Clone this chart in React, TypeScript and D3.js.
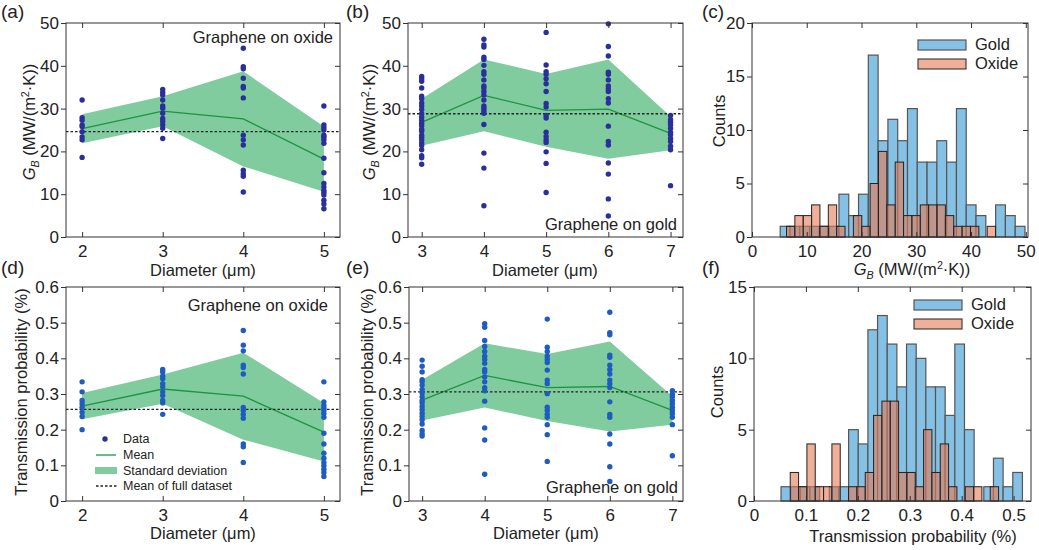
import { useEffect, useRef } from 'react';
import * as d3 from 'd3';

const FONT = 'Liberation Sans, Arial, Helvetica, sans-serif';

// ---------- data ----------
const oxideDiameters = [2, 3, 4, 5];
const goldDiameters = [3, 4, 5, 6, 7];

// G_B (MW/(m2 K)) per device, graphene on oxide
const oxideGB = [
  [32.0, 27.9, 27.3, 26.2, 25.8, 24.6, 23.4, 22.7, 18.6],
  [34.5, 33.8, 33.2, 32.0, 30.6, 30.1, 28.9, 27.7, 27.0, 26.2, 25.4, 23.0],
  [44.1, 39.8, 39.3, 37.1, 35.2, 34.8, 32.5, 23.8, 22.7, 21.5, 15.6, 14.8, 14.2, 10.5],
  [30.6, 26.2, 25.6, 25.0, 23.8, 23.3, 22.7, 21.9, 18.4, 15.0, 12.5, 11.7, 10.9, 10.4, 9.8, 8.6, 7.7, 6.6],
];
const oxideGBMean = [25.3, 29.4, 27.6, 18.2];
const oxideGBSd = [3.4, 3.5, 11.1, 7.6];
const oxideGBFullMean = 24.6;

// G_B, graphene on gold
const goldGB = [
  [37.5, 37.0, 36.4, 34.8, 32.9, 32.3, 31.3, 30.6, 29.8, 28.8, 28.0, 27.3, 26.6, 26.0, 25.2, 24.7, 23.8, 23.3, 22.7, 22.0, 21.4, 20.4, 19.0, 18.5, 17.0],
  [46.2, 44.9, 44.4, 42.0, 41.5, 40.1, 38.6, 38.0, 36.7, 35.3, 34.8, 34.0, 33.2, 32.0, 30.6, 30.1, 29.5, 28.9, 26.3, 19.6, 16.1, 7.3],
  [47.8, 40.2, 38.6, 38.0, 37.0, 35.8, 34.0, 31.2, 30.4, 28.4, 27.8, 24.5, 23.5, 22.7, 22.1, 19.9, 17.2, 10.4],
  [49.8, 44.5, 42.3, 38.5, 38.0, 36.7, 35.3, 34.6, 34.0, 32.3, 31.3, 25.9, 22.3, 21.5, 17.3, 14.7, 8.9, 4.9],
  [28.4, 27.4, 26.8, 26.2, 25.4, 24.5, 23.9, 23.0, 22.3, 21.2, 20.4, 12.0],
];
const goldGBMean = [26.8, 33.1, 29.6, 29.9, 24.2];
const goldGBSd = [5.5, 8.4, 8.5, 11.6, 3.95];
const goldGBFullMean = 28.8;

// transmission probability (%), oxide
const oxideTP = [
  [0.334, 0.306, 0.282, 0.273, 0.263, 0.249, 0.237, 0.2],
  [0.369, 0.362, 0.35, 0.343, 0.329, 0.32, 0.306, 0.296, 0.282, 0.275, 0.243],
  [0.478, 0.437, 0.421, 0.381, 0.374, 0.356, 0.262, 0.254, 0.243, 0.232, 0.16, 0.152, 0.108],
  [0.334, 0.278, 0.268, 0.26, 0.254, 0.245, 0.235, 0.19, 0.16, 0.134, 0.12, 0.108, 0.099, 0.089, 0.08, 0.069],
];
const oxideTPMean = [0.266, 0.314, 0.294, 0.193];
const oxideTPSd = [0.037, 0.041, 0.122, 0.082];
const oxideTPFullMean = 0.257;

// transmission probability (%), gold
const goldTP = [
  [0.395, 0.378, 0.362, 0.34, 0.334, 0.325, 0.313, 0.303, 0.292, 0.282, 0.275, 0.265, 0.256, 0.246, 0.237, 0.228, 0.216, 0.198, 0.188, 0.182],
  [0.497, 0.487, 0.45, 0.433, 0.419, 0.406, 0.397, 0.386, 0.369, 0.362, 0.348, 0.334, 0.318, 0.309, 0.28, 0.205, 0.171, 0.075],
  [0.51, 0.431, 0.419, 0.406, 0.397, 0.388, 0.367, 0.339, 0.329, 0.301, 0.263, 0.254, 0.243, 0.235, 0.214, 0.186, 0.111],
  [0.529, 0.472, 0.466, 0.409, 0.403, 0.381, 0.369, 0.356, 0.339, 0.329, 0.318, 0.278, 0.243, 0.235, 0.188, 0.16, 0.096, 0.055],
  [0.309, 0.299, 0.292, 0.282, 0.273, 0.263, 0.254, 0.245, 0.235, 0.214, 0.127],
];
const goldTPMean = [0.283, 0.352, 0.318, 0.321, 0.254];
const goldTPSd = [0.057, 0.09, 0.094, 0.126, 0.04];
const goldTPFullMean = 0.306;

// histograms: bin start, bin width, counts
const gbGoldBins = { start: 5.15, width: 1.788 };
const gbGoldCounts = [1, 1, 1, 1, 1, 1, 4, 2, 4, 17, 9, 11, 9, 12, 7, 7, 9, 7, 12, 3, 2, 0, 3, 2, 1];
const gbOxideBins = { start: 6.3, width: 1.527 };
const gbOxideCounts = [1, 2, 2, 3, 1, 3, 1, 0, 2, 1, 5, 8, 3, 7, 2, 2, 3, 3, 3, 2, 1, 1, 1, 0, 1];

const tpGoldBins = { start: 0.052, width: 0.0186 };
const tpGoldCounts = [1, 1, 1, 1, 0, 1, 1, 5, 4, 12, 13, 11, 8, 11, 10, 8, 8, 6, 11, 5, 0, 1, 3, 1, 2];
const tpOxideBins = { start: 0.0698, width: 0.01605 };
const tpOxideCounts = [2, 1, 4, 1, 1, 4, 0, 1, 1, 2, 6, 7, 7, 2, 2, 1, 5, 2, 4, 1, 0, 1, 1, 0, 1];

const gbTicks = [0, 10, 20, 30, 40, 50];
const tpTicks = [0, 0.1, 0.2, 0.3, 0.4, 0.5, 0.6];
const histGBTicks = [0, 10, 20, 30, 40, 50];
const histTPTicks = [0, 0.1, 0.2, 0.3, 0.4, 0.5];
const countTicksC = [0, 5, 10, 15, 20];
const countTicksF = [0, 5, 10, 15];

// ---------- styles ----------
const BAND = '#80cc9f';
const MEAN_LINE = '#1e9440';
const DOT_TOP = '#2b2f9b';
const DOT_BOTTOM = '#1f5cc0';
const GOLD_FILL = '#85c1e4';
const OXIDE_FILL = 'rgb(228,122,84)';

const fmtDec = (d) => (d === 0 ? '0' : d3.format('.1f')(d));
const fmtInt = (d) => String(d);

const drawAxes = (node, x, y, w, h, xTicks, yTicks, xFmt, yFmt) => {
  const g = d3.select(node);
  g.selectAll('*').remove();
  g.append('g').call(d3.axisLeft(y).tickValues(yTicks).tickFormat(yFmt).tickSize(5).tickPadding(2));
  g.append('g')
    .attr('transform', `translate(${w},0)`)
    .call(d3.axisRight(y).tickValues(yTicks).tickSize(-5).tickFormat(() => ''));
  g.append('g').call(d3.axisTop(x).tickValues(xTicks).tickSize(-5).tickFormat(() => ''));
  g.append('g')
    .attr('transform', `translate(0,${h})`)
    .call(d3.axisBottom(x).tickValues(xTicks).tickSize(-5).tickPadding(8).tickFormat(xFmt));
  g.selectAll('.domain').remove();
  g.selectAll('.tick line').attr('stroke', '#333').attr('stroke-width', 1);
  g.selectAll('.tick text')
    .attr('font-size', 17)
    .attr('font-family', FONT)
    .attr('fill', '#222');
  g.append('rect')
    .attr('width', w)
    .attr('height', h)
    .attr('fill', 'none')
    .attr('stroke', '#333')
    .attr('stroke-width', 1);
};

const GBText = ({ size }) => (
  <>
    <tspan fontStyle="italic">G</tspan>
    <tspan fontStyle="italic" fontSize={size * 0.65} dy={4}>B</tspan>
    <tspan dy={-4}>{' (MW/(m'}</tspan>
    <tspan fontSize={size * 0.65} dy={-6}>2</tspan>
    <tspan dy={6}>{'·K))'}</tspan>
  </>
);

const ScatterPanel = ({ box, xDomain, yDomain, yTicks, yFmt, diameters, points, mean, sd, fullMean, dotColor }) => {
  const axesRef = useRef(null);
  const { left, top, width, height } = box;
  const x = d3.scaleLinear().domain(xDomain).range([0, width]);
  const y = d3.scaleLinear().domain(yDomain).range([height, 0]);

  useEffect(() => {
    drawAxes(axesRef.current, x, y, width, height, diameters, yTicks, fmtInt, yFmt);
  }, []);

  const band = d3
    .area()
    .x((d, i) => x(diameters[i]))
    .y0((d, i) => y(mean[i] - sd[i]))
    .y1((d, i) => y(mean[i] + sd[i]))(mean);
  const line = d3
    .line()
    .x((d, i) => x(diameters[i]))
    .y((d) => y(d))(mean);

  return (
    <g transform={`translate(${left},${top})`}>
      <path d={band} fill={BAND} />
      <path d={line} fill="none" stroke={MEAN_LINE} strokeWidth={1.3} />
      <line x1={0} x2={width} y1={y(fullMean)} y2={y(fullMean)} stroke="#222" strokeWidth={1.3} strokeDasharray="2.5,2" />
      {points.map((col, i) =>
        col.map((v, j) => <circle key={`${i}-${j}`} cx={x(diameters[i])} cy={y(v)} r={2.7} fill={dotColor} />)
      )}
      <g ref={axesRef} />
    </g>
  );
};

const HistPanel = ({ box, xDomain, yDomain, xTicks, yTicks, xFmt, gold, oxide, legend }) => {
  const axesRef = useRef(null);
  const { left, top, width, height } = box;
  const x = d3.scaleLinear().domain(xDomain).range([0, width]);
  const y = d3.scaleLinear().domain(yDomain).range([height, 0]);

  useEffect(() => {
    drawAxes(axesRef.current, x, y, width, height, xTicks, yTicks, xFmt, fmtInt);
  }, []);

  const bars = (bins, counts, props, key) =>
    counts.map((c, i) => {
      if (!c) return null;
      const x0 = x(bins.start + i * bins.width);
      const x1 = x(bins.start + (i + 1) * bins.width);
      return <rect key={`${key}${i}`} x={x0} y={y(c)} width={x1 - x0} height={y(0) - y(c)} {...props} />;
    });

  return (
    <g transform={`translate(${left},${top})`}>
      {bars(gold.bins, gold.counts, { fill: GOLD_FILL, stroke: '#555', strokeWidth: 1.2 }, 'g')}
      {bars(oxide.bins, oxide.counts, { fill: OXIDE_FILL, fillOpacity: 0.6, stroke: '#222', strokeWidth: 1 }, 'o')}
      <g ref={axesRef} />
      <g transform={`translate(${legend.x},${legend.y})`} fontFamily={FONT} fontSize={16.5} fill="#222">
        <rect x={0} y={0} width={48} height={10} fill={GOLD_FILL} stroke="#555" strokeWidth={1.2} />
        <text x={57} y={10}>Gold</text>
        <rect x={0} y={19} width={48} height={10} fill={OXIDE_FILL} fillOpacity={0.6} stroke="#222" />
        <text x={57} y={29}>Oxide</text>
      </g>
    </g>
  );
};

const App = () => {
  const boxA = { left: 66, top: 23, width: 274, height: 214 };
  const boxB = { left: 408, top: 23, width: 275, height: 214 };
  const boxC = { left: 752, top: 23, width: 276, height: 214 };
  const boxD = { left: 66, top: 287, width: 274, height: 214 };
  const boxE = { left: 409, top: 287, width: 274, height: 214 };
  const boxF = { left: 754, top: 287, width: 277, height: 214 };

  const txt = { fontFamily: FONT, fill: '#222' };

  return (
    <svg width={1039} height={550} style={{ position: 'absolute', left: 0, top: 0, background: '#fff' }}>
      <ScatterPanel box={boxA} xDomain={[1.8, 5.2]} yDomain={[0, 50]} yTicks={gbTicks} yFmt={fmtInt}
        diameters={oxideDiameters} points={oxideGB} mean={oxideGBMean} sd={oxideGBSd} fullMean={oxideGBFullMean} dotColor={DOT_TOP} />
      <ScatterPanel box={boxB} xDomain={[2.78, 7.2]} yDomain={[0, 50]} yTicks={gbTicks} yFmt={fmtInt}
        diameters={goldDiameters} points={goldGB} mean={goldGBMean} sd={goldGBSd} fullMean={goldGBFullMean} dotColor={DOT_TOP} />
      <ScatterPanel box={boxD} xDomain={[1.8, 5.2]} yDomain={[0, 0.6]} yTicks={tpTicks} yFmt={fmtDec}
        diameters={oxideDiameters} points={oxideTP} mean={oxideTPMean} sd={oxideTPSd} fullMean={oxideTPFullMean} dotColor={DOT_BOTTOM} />
      <ScatterPanel box={boxE} xDomain={[2.79, 7.17]} yDomain={[0, 0.6]} yTicks={tpTicks} yFmt={fmtDec}
        diameters={goldDiameters} points={goldTP} mean={goldTPMean} sd={goldTPSd} fullMean={goldTPFullMean} dotColor={DOT_BOTTOM} />
      <HistPanel box={boxC} xDomain={[0, 50.4]} yDomain={[0, 20]} xTicks={histGBTicks} yTicks={countTicksC} xFmt={fmtInt}
        gold={{ bins: gbGoldBins, counts: gbGoldCounts }} oxide={{ bins: gbOxideBins, counts: gbOxideCounts }}
        legend={{ x: 166, y: 17 }} />
      <HistPanel box={boxF} xDomain={[0, 0.5335]} yDomain={[0, 15]} xTicks={histTPTicks} yTicks={countTicksF} xFmt={fmtDec}
        gold={{ bins: tpGoldBins, counts: tpGoldCounts }} oxide={{ bins: tpOxideBins, counts: tpOxideCounts }}
        legend={{ x: 160, y: 13 }} />

      {/* panel letters */}
      <g {...txt} fontSize={19}>
        <text x={1} y={18}>(a)</text>
        <text x={346} y={18}>(b)</text>
        <text x={702} y={18}>(c)</text>
        <text x={1} y={274}>(d)</text>
        <text x={346} y={274}>(e)</text>
        <text x={702} y={274}>(f)</text>
      </g>

      {/* annotations */}
      <g {...txt} fontSize={16.5} textAnchor="end">
        <text x={333} y={43}>Graphene on oxide</text>
        <text x={677} y={230}>Graphene on gold</text>
        <text x={328} y={311}>Graphene on oxide</text>
        <text x={678} y={493}>Graphene on gold</text>
      </g>

      {/* axis labels */}
      <g {...txt} fontSize={16.5} textAnchor="middle">
        <text x={203} y={276}>Diameter (μm)</text>
        <text x={545} y={276}>Diameter (μm)</text>
        <text x={203} y={539}>Diameter (μm)</text>
        <text x={546} y={539}>Diameter (μm)</text>
        <text x={912} y={275}><GBText size={16.5} /></text>
        <text x={913} y={542}>Transmission probability (%)</text>
        <text transform="translate(35,122) rotate(-90)"><GBText size={16.5} /></text>
        <text transform="translate(375,122) rotate(-90)"><GBText size={16.5} /></text>
        <text transform="translate(725,121) rotate(-90)">Counts</text>
        <text transform="translate(27,392) rotate(-90)">Transmission probability (%)</text>
        <text transform="translate(373,392) rotate(-90)">Transmission probability (%)</text>
        <text transform="translate(723,392) rotate(-90)">Counts</text>
      </g>

      {/* legend of panel (d) */}
      <g {...txt} fontSize={12.5}>
        <circle cx={105} cy={439} r={2.7} fill="#2b2f8f" />
        <text x={123} y={443}>Data</text>
        <line x1={96} x2={116} y1={455} y2={455} stroke={MEAN_LINE} strokeWidth={1.3} />
        <text x={123} y={459}>Mean</text>
        <rect x={95} y={467} width={22} height={7} fill={BAND} />
        <text x={123} y={475}>Standard deviation</text>
        <line x1={96} x2={117} y1={486} y2={486} stroke="#222" strokeWidth={1.3} strokeDasharray="2.5,2" />
        <text x={123} y={490}>Mean of full dataset</text>
      </g>
    </svg>
  );
};

export default App;
